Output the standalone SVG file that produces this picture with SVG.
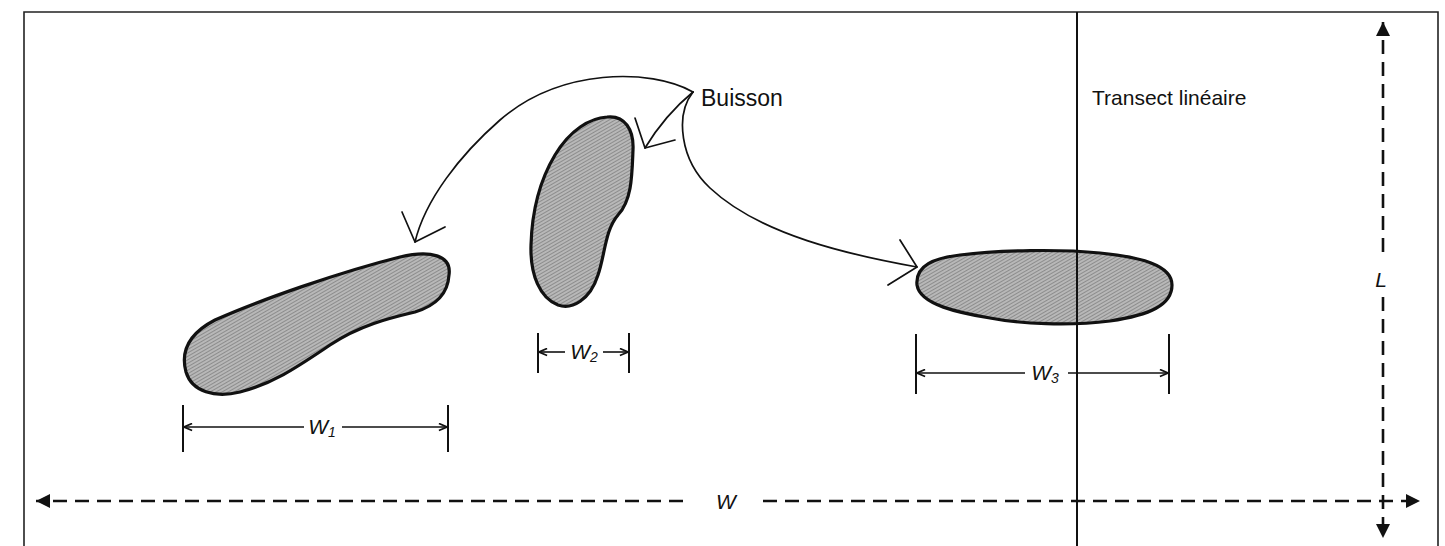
<svg xmlns="http://www.w3.org/2000/svg" width="1445" height="546" viewBox="0 0 1445 546">
  <style>
    .bush { fill: url(#hatch); stroke: #111; stroke-width: 3.2; stroke-linejoin: round; }
    .conn { fill: none; stroke: #111; stroke-width: 1.7; stroke-linecap: round; stroke-linejoin: round; }
    .dim { fill: none; stroke: #111; stroke-width: 1.6; }
    .tick { stroke: #111; stroke-width: 2; }
    .dash { fill: none; stroke: #111; stroke-width: 2.6; stroke-dasharray: 14 8; }
    .txt { font-family: "Liberation Sans", Arial, sans-serif; font-size: 21px; fill: #111; }
    .it { font-family: "Liberation Sans", Arial, sans-serif; font-style: italic; font-size: 21px; fill: #111; }
    .sub { font-size: 14px; }
  </style>
  <defs>
    <pattern id="hatch" width="3" height="3" patternUnits="userSpaceOnUse" patternTransform="rotate(-30)">
      <rect width="3" height="3" fill="#b8b8b8"/>
      <line x1="0" y1="0" x2="3" y2="0" stroke="#6e6e6e" stroke-width="1.2"/>
    </pattern>
    <marker id="open" viewBox="0 0 10 10" refX="10" refY="5" markerWidth="9" markerHeight="9" markerUnits="userSpaceOnUse" orient="auto-start-reverse">
      <path d="M1,1 L10,5 L1,9" fill="none" stroke="#111" stroke-width="1.8"/>
    </marker>
    <marker id="solid" viewBox="0 0 10 10" refX="10" refY="5" markerWidth="16" markerHeight="14" markerUnits="userSpaceOnUse" orient="auto-start-reverse">
      <path d="M0,0 L10,5 L0,10 Z" fill="#111"/>
    </marker>
  </defs>

  <rect width="1445" height="546" fill="#fff"/>

  <g id="frame" fill="none" stroke="#222" stroke-width="1.6">
    <path d="M24,560 L24,12 L1438,12 L1438,560"/>
  </g>

  <g id="transect">
    <line x1="1077" y1="12" x2="1077" y2="546" stroke="#111" stroke-width="2"/>
    <text class="txt" x="1092" y="105">Transect linéaire</text>
  </g>

  <g id="bush1">
    <path class="bush" d="M449,275 C452,255 430,250 400,257 C340,272 260,300 215,320 C190,333 180,350 186,372 C192,392 215,398 240,392 C275,383 300,365 330,345 C360,325 390,318 415,312 C438,305 448,292 449,275 Z"/>
  </g>
  <g id="bush2">
    <path class="bush" d="M607,117 C625,115 634,130 633,150 C632,175 632,200 618,215 C605,230 605,255 598,275 C590,300 572,310 558,305 C540,298 530,275 531,245 C532,210 540,180 555,155 C570,130 590,118 607,117 Z"/>
  </g>
  <g id="bush3">
    <path class="bush" d="M917,285 C915,265 935,258 960,255 C1000,250 1060,249 1100,253 C1140,257 1172,265 1172,285 C1172,305 1150,315 1110,321 C1070,326 1020,324 990,318 C960,313 920,305 917,285 Z"/>
    <line x1="1077" y1="248" x2="1077" y2="326" stroke="#111" stroke-width="2"/>
  </g>

  <g id="buisson">
    <text class="txt" x="701" y="106" style="font-size:23px">Buisson</text>
  </g>

  <g id="connectors">
    <path class="conn" d="M693,92 C650,68 560,68 500,120 C460,155 425,200 415,242"/>
    <polyline class="conn" points="402,212 415,242 445,227"/>
    <path class="conn" d="M693,92 Q665,115 645,148"/>
    <polyline class="conn" points="635,118 645,148 675,140"/>
    <path class="conn" d="M693,92 C675,115 680,160 710,188 C760,235 850,255 917,267"/>
    <polyline class="conn" points="900,240 917,267 888,285"/>
  </g>

  <g id="dim-w1">
    <line class="tick" x1="183" y1="405" x2="183" y2="452"/>
    <line class="tick" x1="448" y1="405" x2="448" y2="452"/>
    <line class="dim" x1="304" y1="427" x2="184" y2="427" marker-end="url(#open)"/>
    <line class="dim" x1="342" y1="427" x2="447" y2="427" marker-end="url(#open)"/>
    <text class="it" x="322" y="434" text-anchor="middle">W<tspan class="sub" dy="3">1</tspan></text>
  </g>
  <g id="dim-w2">
    <line class="tick" x1="538" y1="333" x2="538" y2="373"/>
    <line class="tick" x1="629" y1="333" x2="629" y2="373"/>
    <line class="dim" x1="565" y1="352" x2="539" y2="352" marker-end="url(#open)"/>
    <line class="dim" x1="603" y1="352" x2="628" y2="352" marker-end="url(#open)"/>
    <text class="it" x="584" y="359" text-anchor="middle">W<tspan class="sub" dy="3">2</tspan></text>
  </g>
  <g id="dim-w3">
    <line class="tick" x1="916" y1="334" x2="916" y2="394"/>
    <line class="tick" x1="1169" y1="334" x2="1169" y2="394"/>
    <line class="dim" x1="1025" y1="373" x2="917" y2="373" marker-end="url(#open)"/>
    <line class="dim" x1="1068" y1="373" x2="1168" y2="373" marker-end="url(#open)"/>
    <text class="it" x="1045" y="380" text-anchor="middle">W<tspan class="sub" dy="3">3</tspan></text>
  </g>

  <g id="dim-W">
    <line class="dash" x1="683" y1="501" x2="36" y2="501" marker-end="url(#solid)"/>
    <line class="dash" x1="763" y1="501" x2="1420" y2="501" marker-end="url(#solid)"/>
    <text class="it" x="726" y="509" text-anchor="middle">W</text>
  </g>
  <g id="dim-L">
    <line class="dash" x1="1383" y1="252" x2="1383" y2="22" marker-end="url(#solid)"/>
    <line class="dash" x1="1383" y1="297" x2="1383" y2="538" marker-end="url(#solid)"/>
    <text class="it" x="1381" y="287" text-anchor="middle">L</text>
  </g>
</svg>
